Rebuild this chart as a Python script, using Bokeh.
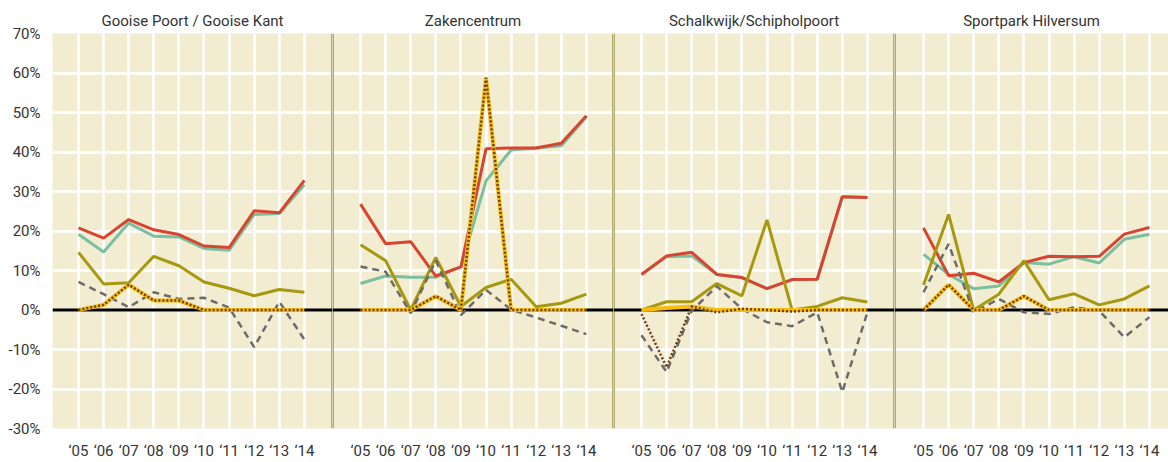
from bokeh.plotting import figure
from bokeh.layouts import row
from bokeh.models import Range1d, FixedTicker, Span
from bokeh.embed import file_html
from bokeh.resources import INLINE

# ---------------- data ----------------
years = [2005, 2006, 2007, 2008, 2009, 2010, 2011, 2012, 2013, 2014]
year_labels = ["‘05", "‘06", "‘07", "‘08", "‘09", "‘10", "‘11", "‘12", "‘13", "‘14"]
titles = ["Gooise Poort / Gooise Kant", "Zakencentrum",
          "Schalkwijk/Schipholpoort", "Sportpark Hilversum"]
y_ticks = [-30, -20, -10, 0, 10, 20, 30, 40, 50, 60, 70]
y_tick_labels = ["-30%", "-20%", "-10%", "0%", "10%", "20%", "30%",
                 "40%", "50%", "60%", "70%"]

# one list per panel (in order of titles), values in %
red_series = [
    [20.8, 18.2, 22.9, 20.3, 19.1, 16.2, 15.8, 25.1, 24.6, 32.8],
    [26.8, 16.8, 17.3, 8.6, 10.9, 40.8, 41.0, 41.0, 42.2, 49.2],
    [9.0, 13.7, 14.6, 9.0, 8.2, 5.4, 7.7, 7.8, 28.7, 28.5],
    [20.8, 8.7, 9.3, 7.1, 12.0, 13.6, 13.5, 13.6, 19.2, 20.9],
]
teal_series = [
    [19.2, 14.7, 22.0, 18.7, 18.5, 15.6, 15.1, 24.2, 24.4, 31.7],
    [6.7, 8.6, 8.3, 8.3, 10.9, 32.7, 40.5, 41.0, 41.6, 48.9],
    [9.0, 13.5, 13.7, 9.0, 8.2, 5.4, 7.7, 7.8, 28.7, 28.5],
    [14.1, 9.0, 5.4, 6.1, 12.0, 11.6, 13.5, 11.9, 17.9, 19.2],
]
olive_series = [
    [14.6, 6.6, 6.9, 13.6, 11.2, 7.1, 5.5, 3.6, 5.2, 4.5],
    [16.5, 12.5, 0.0, 13.3, 0.9, 5.7, 7.8, 0.8, 1.7, 4.0],
    [0.0, 2.1, 2.1, 6.7, 3.6, 22.8, 0.0, 0.9, 3.1, 2.0],
    [6.3, 24.2, 0.0, 4.0, 12.5, 2.6, 4.1, 1.3, 2.8, 6.1],
]
grey_series = [
    [7.1, 4.0, 0.7, 4.5, 2.8, 3.1, 0.6, -9.4, 2.1, -7.5],
    [11.0, 9.7, -0.8, 12.5, -1.3, 5.1, 0.1, -1.9, -4.0, -6.1],
    [-6.4, -15.7, -0.2, 6.0, 0.3, -3.1, -4.1, -0.6, -20.8, -0.6],
    [4.5, 16.7, -0.6, 2.8, -0.6, -1.0, 0.7, -0.2, -6.9, -1.8],
]
yellow_series = [
    [0.0, 1.3, 6.4, 2.4, 2.4, 0.0, 0.0, 0.0, 0.0, 0.0],
    [0.0, 0.0, 0.0, 3.5, 0.0, 58.8, 0.0, 0.0, 0.0, 0.0],
    [0.0, 0.5, 0.9, 0.0, 0.0, 0.0, 0.0, 0.0, 0.0, 0.0],
    [0.0, 6.4, 0.0, 0.0, 3.5, 0.0, 0.0, 0.0, 0.0, 0.0],
]
brown_series = [
    [0.0, 1.3, 6.4, 2.4, 2.4, 0.0, 0.0, 0.0, 0.0, 0.0],
    [0.0, 0.0, 0.0, 3.5, 0.0, 58.8, 0.0, 0.0, 0.0, 0.0],
    [-1.0, -14.5, 0.9, -0.6, 0.3, 0.0, -0.4, 0.0, 0.0, 0.0],
    [0.0, 6.4, 0.0, 0.0, 3.5, 0.0, 0.0, 0.0, 0.0, 0.0],
]

# ---------------- style ----------------
FONT = "Roboto"
TEXT = "#333333"
BG = "#f2ecd1"
SEP = "#b3ab72"

# per panel: x_start, x_end, figure width, left border
panel_layout = [
    (2003.964, 2015.12, 332, 52),
    (2003.884, 2015.08, 281, 0),
    (2003.884, 2015.08, 281, 0),
    (2003.845, 2014.76, 274, 0),
]

figs = []
for i, title in enumerate(titles):
    x0, x1, w, bl = panel_layout[i]
    p = figure(width=w, height=462, output_backend="svg", toolbar_location=None,
               x_range=Range1d(x0, x1), y_range=Range1d(-30, 70),
               min_border_left=bl, min_border_right=0,
               min_border_top=33, min_border_bottom=34,
               title=title)
    p.title.align = "center"
    p.title.text_font = FONT
    p.title.text_font_size = "15px"
    p.title.text_font_style = "normal"
    p.title.text_color = TEXT
    p.title.standoff = 8
    p.background_fill_color = BG
    p.border_fill_color = "white"
    p.outline_line_color = None

    p.xaxis.ticker = FixedTicker(ticks=years)
    p.xaxis.major_label_overrides = {y: l for y, l in zip(years, year_labels)}
    p.xaxis.axis_line_color = None
    p.xaxis.major_tick_line_color = None
    p.xaxis.minor_tick_line_color = None
    p.xaxis.major_label_text_font = FONT
    p.xaxis.major_label_text_font_size = "15px"
    p.xaxis.major_label_text_color = TEXT
    p.xaxis.major_label_standoff = 7

    p.yaxis.ticker = FixedTicker(ticks=y_ticks)
    p.yaxis.major_label_overrides = {t: l for t, l in zip(y_ticks, y_tick_labels)}
    p.yaxis.axis_line_color = None
    p.yaxis.major_tick_line_color = None
    p.yaxis.minor_tick_line_color = None
    p.yaxis.major_label_text_font = FONT
    p.yaxis.major_label_text_font_size = "15px"
    p.yaxis.major_label_text_color = TEXT
    p.yaxis.major_label_standoff = 6
    if i > 0:
        p.yaxis.visible = False

    p.xgrid.ticker = FixedTicker(ticks=years)
    p.ygrid.ticker = FixedTicker(ticks=y_ticks)
    p.grid.grid_line_color = "white"
    p.grid.grid_line_width = 2.5
    p.grid.grid_line_alpha = 1.0

    # panel separators
    if i > 0:
        p.add_layout(Span(location=x0, dimension="height", line_color=SEP,
                          line_width=3, level="underlay"))
    if i < len(titles) - 1:
        p.add_layout(Span(location=x1, dimension="height", line_color=SEP,
                          line_width=3, level="underlay"))
    # zero line
    p.add_layout(Span(location=0, dimension="width", line_color="black",
                      line_width=3, level="underlay"))

    p.line(years, teal_series[i], line_color="#7cbf9f", line_width=3)
    p.line(years, red_series[i], line_color="#d8442f", line_width=3)
    p.line(years, olive_series[i], line_color="#a6980f", line_width=3)
    p.line(years, grey_series[i], line_color="#6d6a68", line_width=2.5,
           line_dash="7 5")
    p.line(years, yellow_series[i], line_color="#f6bd0c", line_width=4)
    p.line(years, brown_series[i], line_color="#6e3d13", line_width=2.5,
           line_dash="2 2")
    figs.append(p)

layout = row(*figs, spacing=0)
open("out.html", "w").write(file_html(layout, INLINE))
